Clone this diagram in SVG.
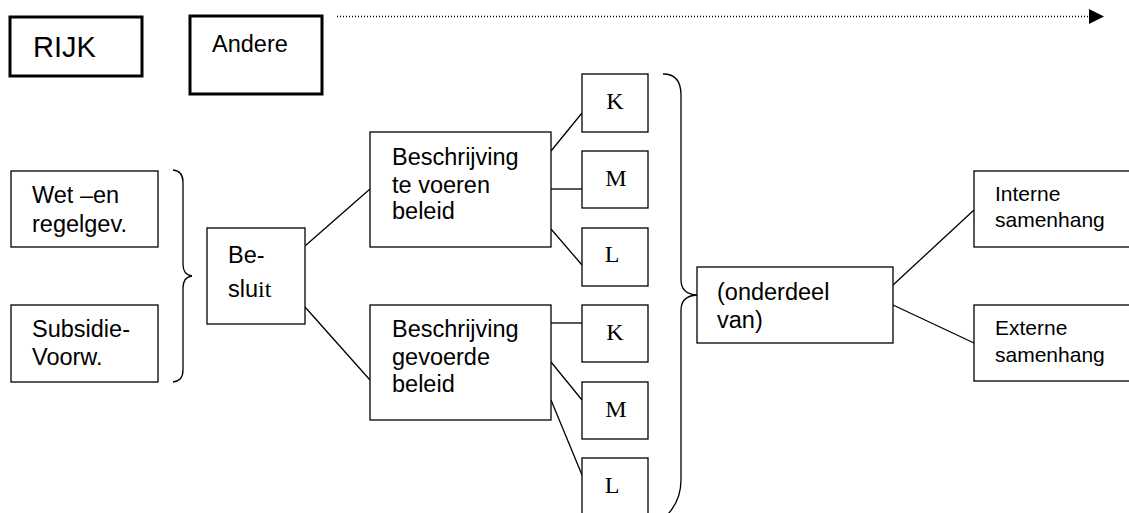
<svg xmlns="http://www.w3.org/2000/svg" width="1129" height="513" viewBox="0 0 1129 513">
<style>
.box{fill:#fff;stroke:#000;stroke-width:1.3}
.thick{fill:#fff;stroke:#000;stroke-width:3}
.t{font-family:"Liberation Sans",Arial,sans-serif;font-size:23.5px;fill:#000}
.s{font-family:"Liberation Sans",Arial,sans-serif;font-size:21px;fill:#000}
.tm{font-family:"Liberation Serif","Times New Roman",serif;font-size:24px;fill:#000}
.ln{fill:none;stroke:#000;stroke-width:1.3}
</style>
<defs>
<marker id="arr" markerWidth="16" markerHeight="16" refX="0" refY="7.5" orient="auto" markerUnits="userSpaceOnUse">
<path d="M0,0 L15,7.5 L0,15 Z" fill="#000"/>
</marker>
</defs>
<rect width="1129" height="513" fill="#fff"/>
<g id="connectors">
<line class="ln" x1="337" y1="16.5" x2="1089" y2="16.5" stroke-dasharray="1 2" marker-end="url(#arr)"/>
<path class="ln" d="M173,170 Q183,171 183,182 L183,264 Q183,275 192,276 Q183,277 183,288 L183,370 Q183,381 173,382"/>
<line class="ln" x1="305" y1="246" x2="370" y2="189"/>
<line class="ln" x1="305" y1="307" x2="370" y2="380"/>
<line class="ln" x1="551" y1="151" x2="582" y2="113"/>
<line class="ln" x1="551" y1="189" x2="582" y2="189"/>
<line class="ln" x1="551" y1="229" x2="582" y2="265"/>
<line class="ln" x1="551" y1="323" x2="582" y2="323"/>
<line class="ln" x1="551" y1="362" x2="582" y2="400"/>
<line class="ln" x1="551" y1="400" x2="582" y2="475"/>
<path class="ln" d="M663,74 Q681,74 681,95 L681,280 Q681,294 697,295 Q681,296 681,310 L681,480 Q681,500 668,514"/>
<line class="ln" x1="893" y1="285" x2="974" y2="210"/>
<line class="ln" x1="893" y1="305" x2="974" y2="343"/>
</g>
<g id="rijk"><rect class="thick" x="10" y="17" width="132" height="59"/><text class="t" x="33" y="57" style="font-size:29px">RIJK</text></g>
<g id="andere"><rect class="thick" x="190" y="16" width="132" height="78"/><text class="t" x="212" y="52">Andere</text></g>
<g id="wet"><rect class="box" x="11" y="171" width="147" height="76"/><text class="t" x="32" y="203">Wet –en</text><text class="t" x="32" y="232">regelgev.</text></g>
<g id="subsidie"><rect class="box" x="11" y="305" width="147" height="77"/><text class="t" x="32" y="337">Subsidie-</text><text class="t" x="32" y="365">Voorw.</text></g>
<g id="besluit"><rect class="box" x="207" y="228" width="98" height="96"/><text class="t" x="228" y="263">Be-</text><text class="t" x="228" y="297">slu<tspan class="tm">it</tspan></text></g>
<g id="te-voeren"><rect class="box" x="370" y="132" width="181" height="115"/><text class="t" x="392" y="165">Beschrijving</text><text class="t" x="392" y="193">te voeren</text><text class="t" x="392" y="219">beleid</text></g>
<g id="gevoerde"><rect class="box" x="370" y="305" width="181" height="115"/><text class="t" x="392" y="337">Beschrijving</text><text class="t" x="392" y="365">gevoerde</text><text class="t" x="392" y="392">beleid</text></g>
<g id="k1"><rect class="box" x="582" y="74" width="66" height="58"/><text class="tm" x="615" y="109" text-anchor="middle">K</text></g>
<g id="m1"><rect class="box" x="582" y="151" width="66" height="57"/><text class="tm" x="616" y="186" text-anchor="middle">M</text></g>
<g id="l1"><rect class="box" x="582" y="228" width="66" height="58"/><text class="tm" x="612" y="262" text-anchor="middle">L</text></g>
<g id="k2"><rect class="box" x="582" y="305" width="66" height="57"/><text class="tm" x="615" y="340" text-anchor="middle">K</text></g>
<g id="m2"><rect class="box" x="582" y="382" width="66" height="57"/><text class="tm" x="616" y="417" text-anchor="middle">M</text></g>
<g id="l2"><rect class="box" x="582" y="458" width="66" height="60"/><text class="tm" x="612" y="493" text-anchor="middle">L</text></g>
<g id="onderdeel"><rect class="box" x="697" y="267" width="196" height="76"/><text class="t" x="717" y="300">(onderdeel</text><text class="t" x="717" y="328">van)</text></g>
<g id="interne"><rect class="box" x="974" y="171" width="160" height="76"/><text class="s" x="995" y="201">Interne</text><text class="s" x="995" y="227">samenhang</text></g>
<g id="externe"><rect class="box" x="974" y="305" width="160" height="76"/><text class="s" x="995" y="335">Externe</text><text class="s" x="995" y="362">samenhang</text></g>
</svg>
